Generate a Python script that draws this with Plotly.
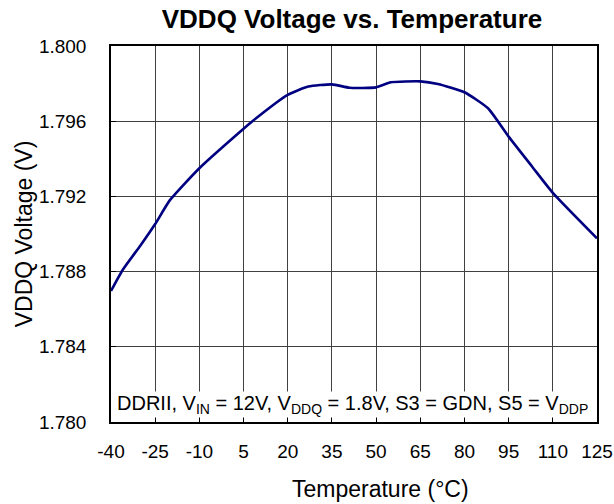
import plotly.graph_objects as go

temps = [-40, -36, -30, -25, -20, -10, 5, 8, 20, 27, 35, 41, 50, 55, 65, 71, 80, 88, 95, 103, 110, 125]
vddq = [1.78697, 1.7881, 1.78939, 1.79053, 1.7918, 1.7935, 1.7956, 1.7960, 1.7974, 1.79784,
        1.79796, 1.79778, 1.7978, 1.79807, 1.79812, 1.79798, 1.79754, 1.79669, 1.79518,
        1.79358, 1.79219, 1.78977]
x_ticks = list(range(-40, 126, 15))
y_ticks = [1.780, 1.784, 1.788, 1.792, 1.796, 1.800]

FONT = "Liberation Sans, Arial, sans-serif"
L, R, T, B = 111, 17, 46, 82
W, H = 614, 504
PW = W - L - R

fig = go.Figure()
fig.add_trace(go.Scatter(x=temps, y=vddq, mode="lines",
                         line=dict(color="#000080", width=2.6, shape="spline", smoothing=0.5),
                         showlegend=False, hoverinfo="skip"))

fig.add_annotation(
    text="DDRII, V<sub>IN</sub> = 12V, V<sub>DDQ</sub> = 1.8V, S3 = GDN, S5 = V<sub>DDP</sub>",
    xref="paper", yref="paper", x=(352.7 - L) / PW, y=0, xanchor="center", yanchor="bottom",
    yshift=4, showarrow=False, bgcolor="white", borderpad=0,
    font=dict(family=FONT, size=20, color="black"))

# x-axis title (offset to the right of the plot centre, as in the reference)
fig.add_annotation(
    text="Temperature (°C)", xref="paper", yref="paper",
    x=(380 - L) / PW, y=0, xanchor="center", yanchor="middle", yshift=-67,
    showarrow=False, font=dict(family=FONT, size=23, color="black"))

fig.update_layout(
    width=W, height=H,
    margin=dict(l=L, r=R, t=T, b=B, autoexpand=False),
    paper_bgcolor="white", plot_bgcolor="white",
    font=dict(family=FONT, color="black"),
    title=dict(text="<b>VDDQ Voltage vs. Temperature</b>", x=352 / W,
               xanchor="center", y=1 - 19 / H, yanchor="middle",
               font=dict(family=FONT, size=26, color="black")),
    xaxis=dict(range=[-40, 125], tickvals=x_ticks, ticktext=[str(t) for t in x_ticks],
               showgrid=True, gridcolor="#404040", gridwidth=1,
               showline=True, linecolor="black", linewidth=1.5, mirror=True,
               ticks="inside", ticklen=5, tickcolor="black",
               tickfont=dict(size=19), ticklabelstandoff=11,
               zeroline=False, fixedrange=True),
    yaxis=dict(range=[1.780, 1.800], tickvals=y_ticks, ticktext=[f"{v:.3f}" for v in y_ticks],
               showgrid=True, gridcolor="#404040", gridwidth=1,
               showline=True, linecolor="black", linewidth=1.5, mirror=True,
               ticks="inside", ticklen=5, tickcolor="black",
               tickfont=dict(size=19), ticklabelstandoff=19,
               title=dict(text="VDDQ Voltage (V)", font=dict(size=23), standoff=0),
               zeroline=False, fixedrange=True),
)

fig.write_html("out.html", config={"displayModeBar": False},
               post_script="document.body.style.margin='0';document.body.style.overflow='hidden';")
